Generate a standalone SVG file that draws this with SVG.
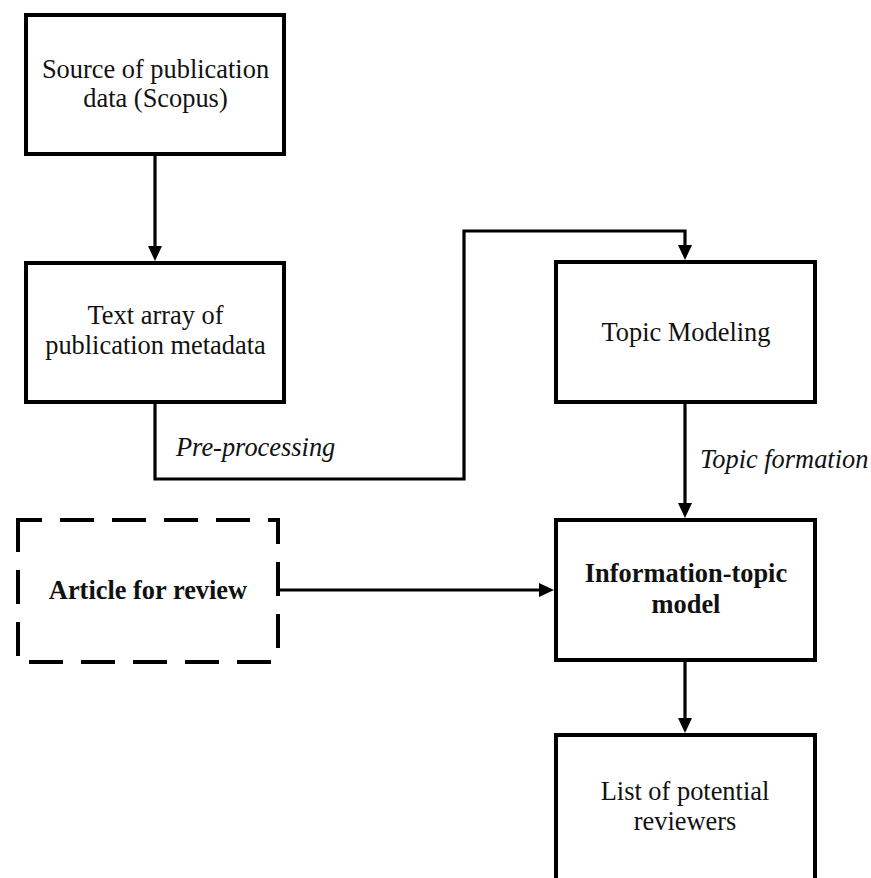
<svg xmlns="http://www.w3.org/2000/svg" width="871" height="878" viewBox="0 0 871 878">
<style>
.box{fill:#fff;stroke:#000;stroke-width:4}
.dash{fill:none;stroke:#000;stroke-width:4;stroke-dasharray:34 18}
.t{font-family:"Liberation Serif","Times New Roman",serif;font-size:26.4px;fill:#111;text-anchor:middle}
.b{font-weight:bold}
.i{font-style:italic;text-anchor:start}
.c{fill:none;stroke:#000;stroke-width:3.2}
</style>
<defs>
<marker id="ah" viewBox="0 0 15 14" refX="11" refY="7" markerWidth="15" markerHeight="14" markerUnits="userSpaceOnUse" orient="auto">
<path d="M0,0 L15,7 L0,14 Z" fill="#000"/>
</marker>
</defs>
<rect width="871" height="878" fill="#fff"/>
<g id="connectors">
<path class="c" d="M155,156 V257" marker-end="url(#ah)"/>
<path class="c" d="M155,404 V479 H464 V231 H685 V256" marker-end="url(#ah)"/>
<path class="c" d="M685,404 V514" marker-end="url(#ah)"/>
<path class="c" d="M280,590 H550" marker-end="url(#ah)"/>
<path class="c" d="M685,662 V729" marker-end="url(#ah)"/>
<text class="t i" x="176" y="456">Pre-processing</text>
<text class="t i" x="700" y="468">Topic formation</text>
</g>
<g id="source">
<rect class="box" x="26" y="15" width="258" height="139"/>
<text class="t" x="155.5" y="78">Source of publication</text>
<text class="t" x="155.5" y="107">data (Scopus)</text>
</g>
<g id="textarray">
<rect class="box" x="26" y="263" width="258" height="139"/>
<text class="t" x="155.5" y="324">Text array of</text>
<text class="t" x="155.5" y="354">publication metadata</text>
</g>
<g id="topicmodeling">
<rect class="box" x="556" y="262" width="259" height="140"/>
<text class="t" x="686" y="341">Topic Modeling</text>
</g>
<g id="article">
<path class="dash" d="M17,520 H279" stroke-dashoffset="9"/>
<path class="dash" d="M278,518 V663" stroke-dashoffset="8"/>
<path class="dash" d="M18,518 V663"/>
<path class="dash" d="M17,662 H279" stroke-dashoffset="40"/>
<text class="t b" x="148" y="599">Article for review</text>
</g>
<g id="infomodel">
<rect class="box" x="556" y="520" width="259" height="140"/>
<text class="t b" x="686" y="582">Information-topic</text>
<text class="t b" x="686" y="613">model</text>
</g>
<g id="reviewers">
<rect class="box" x="556" y="735" width="259" height="160"/>
<text class="t" x="685" y="800">List of potential</text>
<text class="t" x="685" y="830">reviewers</text>
</g>
</svg>
